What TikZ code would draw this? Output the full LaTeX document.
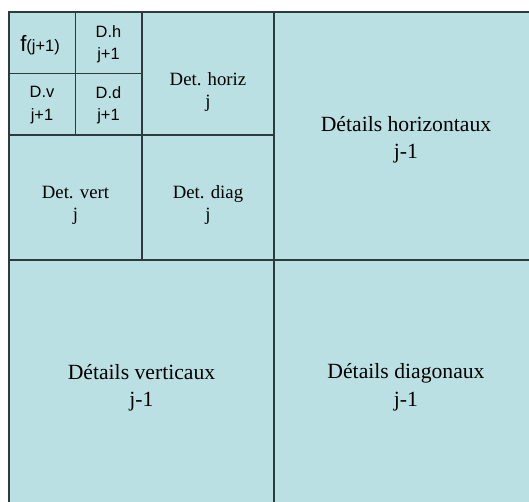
\documentclass[tikz,border=0pt]{standalone}
\usepackage{fontspec}
\setmainfont{Liberation Serif}
\newfontfamily\arialfont{Liberation Sans}
\definecolor{CellFill}{HTML}{BBE0E3}
\definecolor{CellLine}{HTML}{2E3B3D}
\tikzset{
    % Grid lines
    gridline/.style={
        draw=CellLine,
        line width=1.6pt
    },
    % Label styles
    biglabel/.style={
        align=center,
        inner sep=0pt,
        font=\fontsize{18.5}{23.5}\selectfont
    },
    midlabel/.style={
        align=center,
        inner sep=0pt,
        font=\fontsize{16}{19}\selectfont
    },
    smalllabel/.style={
        align=center,
        inner sep=0pt,
        font=\arialfont\fontsize{14}{19}\selectfont
    }
}
\begin{document}
\begin{tikzpicture}[x=0.03cm, y=-0.03cm]
    \useasboundingbox (0,0) rectangle (529,502);
    \clip (0,0) rectangle (529,502);

    % Cells
    \fill[CellFill] (9,12) rectangle (539,508);
    \draw[gridline] (9,12) rectangle (539,508);
    \draw[gridline] (274,12) -- (274,508);
    \draw[gridline] (9,260) -- (539,260);
    \draw[gridline] (142,12) -- (142,260);
    \draw[gridline] (9,135) -- (274,135);
    \draw[gridline] (75.5,12) -- (75.5,135);
    \draw[gridline] (9,73.5) -- (142,73.5);

    % Level j+1
    \node[smalllabel] (approx) at (40,45) {{\fontsize{19}{19}\selectfont f}(j+1)};
    \node[smalllabel] (dh1) at (108.5,44) {D.h\\j+1};
    \node[smalllabel] (dv1) at (42,105) {D.v\\j+1};
    \node[smalllabel] (dd1) at (108.5,105) {D.d\\j+1};

    % Level j
    \node[midlabel] (deth) at (208,92) {Det. horiz\\j};
    \node[midlabel] (detv) at (75.5,205) {Det. vert\\j};
    \node[midlabel] (detd) at (208,205) {Det. diag\\j};

    % Level j-1
    \node[biglabel] (dhor) at (406,140) {Détails horizontaux\\j-1};
    \node[biglabel] (dver) at (141.5,388) {Détails verticaux\\j-1};
    \node[biglabel] (ddia) at (406,387) {Détails diagonaux\\j-1};
\end{tikzpicture}
\end{document}
